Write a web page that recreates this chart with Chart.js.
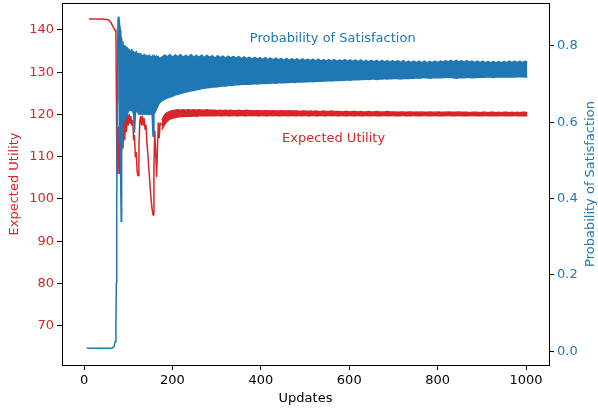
<!DOCTYPE html>
<html>
<head>
<meta charset="utf-8">
<script src="https://cdn.jsdelivr.net/npm/chart.js@4"></script>
<style>
  body { margin: 0; background: #fff; }
  #wrap { width: 598px; height: 411px; position: relative; }
</style>
</head>
<body>
<div id="wrap"><canvas id="chart"></canvas></div>
<script>
// Expected Utility, drawn as a plain line up to the point where it settles
const utilityLineUpdates = [
  11, 20, 40, 55, 60, 64, 68, 70, 72, 73, 74, 75,
  76, 78, 80, 82, 84, 86, 88, 90, 92, 94,
  96, 98, 100, 102, 104, 106, 108, 110, 112, 114,
  116, 118, 120, 122, 124, 126, 128, 130, 132, 134,
  136, 138, 140, 142, 144, 146, 148, 150, 152, 154,
  156, 158, 160, 162, 164, 166, 168, 170, 172, 176
];
const utilityLine = [
  142.6, 142.6, 142.6, 142.4, 141.9, 141.1, 140.3, 140.0, 139.4, 126, 110, 106.5,
  106, 117, 106, 118, 110, 118.5, 112, 119, 114, 119.5,
  116, 120, 117.5, 120, 118, 119.5, 117.5, 118.5, 114, 115,
  110, 111, 106.5, 105.5, 112, 118.5, 119.5, 117.5, 119.5, 117.5,
  119, 116.5, 117.5, 113.5, 111, 108, 105, 102, 99.5, 97.5,
  96.2, 108, 116, 111, 105.3, 112, 118, 114.5, 118, 117.5
];

// Probability of Satisfaction before the oscillation starts
const probLineUpdates = [6, 11, 20, 40, 55, 60, 64, 68, 70, 72, 73, 74, 75, 76, 77, 78];
const probLine = [0.008, 0.008, 0.008, 0.008, 0.008, 0.008, 0.009, 0.013, 0.025, 0.07, 0.18, 0.40, 0.65, 0.80, 0.87, 0.876];

// the oscillating part: upper and lower edges of the band
const probBandUpdates = [
  78, 80, 82, 83, 84, 85, 86, 88, 90, 92, 94,
  96, 98, 100, 102, 104, 106, 108, 110, 112, 114,
  116, 118, 120, 122, 124, 126, 128, 130, 132, 134,
  136, 138, 140, 142, 144, 146, 148, 150, 152, 154,
  156, 158, 160, 162, 164, 166, 168, 170,
  176, 182, 188, 194, 200, 206, 212, 218, 224, 230,
  236, 242, 248, 254, 260, 266, 272, 278, 284, 290,
  296, 302, 308, 314, 320, 326, 332, 338, 344, 350,
  356, 362, 368, 374, 380, 386, 392, 398, 404, 410,
  416, 422, 428, 434, 440, 446, 452, 458, 464, 470,
  476, 482, 488, 494, 500, 506, 512, 518, 524, 530,
  536, 542, 548, 554, 560, 566, 572, 578, 584, 590,
  596, 602, 608, 614, 620, 626, 632, 638, 644, 650,
  656, 662, 668, 674, 680, 686, 692, 698, 704, 710,
  716, 722, 728, 734, 740, 746, 752, 758, 764, 770,
  776, 782, 788, 794, 800, 806, 812, 818, 824, 830,
  836, 842, 848, 854, 860, 866, 872, 878, 884, 890,
  896, 902, 908, 914, 920, 926, 932, 938, 944, 950,
  956, 962, 968, 974, 980, 986, 992, 998, 1003
];
const probUpper = [
  0.876, 0.86, 0.84, 0.83, 0.82, 0.815, 0.81, 0.80, 0.80, 0.80, 0.797,
  0.795, 0.795, 0.79, 0.79, 0.787, 0.785, 0.79, 0.78, 0.785, 0.78,
  0.778, 0.785, 0.775, 0.78, 0.775, 0.772, 0.78, 0.77, 0.775, 0.772,
  0.778, 0.77, 0.775, 0.768, 0.774, 0.77, 0.776, 0.768, 0.772, 0.768,
  0.775, 0.766, 0.772, 0.767, 0.774, 0.766, 0.772, 0.766,
  0.770, 0.776, 0.771, 0.777, 0.770, 0.776, 0.771, 0.777, 0.770, 0.775,
  0.771, 0.777, 0.770, 0.775, 0.770, 0.776, 0.769, 0.775, 0.770, 0.774,
  0.768, 0.774, 0.769, 0.773, 0.767, 0.773, 0.768, 0.772, 0.767, 0.772,
  0.766, 0.771, 0.766, 0.770, 0.765, 0.770, 0.765, 0.769, 0.764, 0.769,
  0.764, 0.768, 0.763, 0.768, 0.763, 0.767, 0.762, 0.767, 0.762, 0.766,
  0.762, 0.766, 0.761, 0.766, 0.761, 0.765, 0.761, 0.765, 0.760, 0.765,
  0.760, 0.764, 0.760, 0.764, 0.759, 0.764, 0.759, 0.763, 0.760, 0.764,
  0.759, 0.763, 0.759, 0.763, 0.758, 0.763, 0.758, 0.762, 0.758, 0.762,
  0.758, 0.762, 0.757, 0.762, 0.757, 0.761, 0.757, 0.761, 0.757, 0.761,
  0.756, 0.761, 0.756, 0.760, 0.756, 0.760, 0.756, 0.760, 0.755, 0.760,
  0.755, 0.759, 0.756, 0.760, 0.756, 0.760, 0.757, 0.761, 0.758, 0.762,
  0.758, 0.762, 0.758, 0.761, 0.757, 0.761, 0.757, 0.760, 0.756, 0.760,
  0.756, 0.760, 0.755, 0.759, 0.755, 0.759, 0.755, 0.759, 0.755, 0.759,
  0.756, 0.760, 0.756, 0.760, 0.756, 0.760, 0.756, 0.760, 0.756
];
const probLower = [
  0.876, 0.55, 0.52, 0.52, 0.34, 0.52, 0.55, 0.60, 0.60, 0.61, 0.61,
  0.62, 0.62, 0.63, 0.63, 0.635, 0.63, 0.635, 0.63, 0.62, 0.574,
  0.62, 0.635, 0.63, 0.625, 0.62, 0.625, 0.62, 0.625, 0.62, 0.625,
  0.62, 0.625, 0.62, 0.62, 0.625, 0.62, 0.62, 0.625, 0.62, 0.62,
  0.563, 0.62, 0.625, 0.63, 0.635, 0.64, 0.645, 0.65,
  0.656, 0.660, 0.663, 0.666, 0.668, 0.671, 0.673, 0.675, 0.677, 0.679,
  0.680, 0.682, 0.683, 0.685, 0.686, 0.688, 0.689, 0.690, 0.691, 0.692,
  0.692, 0.693, 0.694, 0.695, 0.695, 0.696, 0.697, 0.697, 0.698, 0.698,
  0.699, 0.699, 0.700, 0.699, 0.700, 0.701, 0.700, 0.701, 0.702, 0.701,
  0.702, 0.702, 0.703, 0.702, 0.703, 0.704, 0.703, 0.704, 0.704, 0.705,
  0.704, 0.705, 0.706, 0.705, 0.706, 0.706, 0.707, 0.706, 0.707, 0.708,
  0.707, 0.708, 0.708, 0.709, 0.708, 0.709, 0.710, 0.709, 0.710, 0.710,
  0.711, 0.710, 0.711, 0.712, 0.711, 0.712, 0.712, 0.713, 0.712, 0.713,
  0.713, 0.712, 0.713, 0.713, 0.714, 0.713, 0.714, 0.714, 0.715, 0.714,
  0.714, 0.714, 0.715, 0.714, 0.715, 0.715, 0.716, 0.715, 0.716, 0.716,
  0.716, 0.715, 0.716, 0.716, 0.717, 0.716, 0.717, 0.717, 0.718, 0.717,
  0.716, 0.715, 0.716, 0.717, 0.716, 0.717, 0.717, 0.716, 0.717, 0.717,
  0.718, 0.717, 0.718, 0.718, 0.718, 0.717, 0.718, 0.718, 0.719, 0.718,
  0.718, 0.718, 0.719, 0.718, 0.719, 0.719, 0.719, 0.718, 0.719
];

const utilityBandUpdates = probBandUpdates.slice(49);
const utilityUpper = [
  118.6, 119.9, 120.4, 120.7, 120.9, 121.0, 121.1, 121.0, 121.1, 121.0,
  121.1, 121.0, 121.1, 121.0, 121.1, 121.0, 121.0, 121.1, 121.0, 121.0,
  121.0, 120.9, 121.0, 120.9, 121.0, 120.9, 121.0, 120.9, 120.9, 121.0,
  120.9, 120.9, 121.0, 120.9, 120.9, 120.8, 120.9, 120.9, 120.8, 120.9,
  120.9, 120.8, 120.9, 120.8, 120.8, 120.9, 120.8, 120.8, 120.9, 120.8,
  120.8, 120.8, 120.7, 120.8, 120.8, 120.7, 120.8, 120.7, 120.8, 120.7,
  120.7, 120.8, 120.7, 120.7, 120.8, 120.7, 120.7, 120.7, 120.6, 120.7,
  120.7, 120.6, 120.7, 120.7, 120.6, 120.7, 120.6, 120.6, 120.7, 120.6,
  120.6, 120.7, 120.6, 120.6, 120.6, 120.7, 120.6, 120.6, 120.6, 120.5,
  120.6, 120.6, 120.5, 120.6, 120.6, 120.5, 120.6, 120.5, 120.6, 120.5,
  120.5, 120.6, 120.5, 120.5, 120.6, 120.5, 120.5, 120.5, 120.6, 120.5,
  120.5, 120.5, 120.6, 120.5, 120.5, 120.5, 120.4, 120.5, 120.5, 120.5,
  120.4, 120.5, 120.5, 120.4, 120.5, 120.5, 120.4, 120.5, 120.4, 120.5,
  120.5, 120.4, 120.5, 120.4, 120.5, 120.4, 120.5, 120.5, 120.4
];
const utilityLower = [
  116.4, 117.6, 118.4, 118.9, 119.1, 119.3, 119.4, 119.5, 119.5, 119.6,
  119.6, 119.6, 119.7, 119.6, 119.7, 119.7, 119.7, 119.7, 119.7, 119.7,
  119.7, 119.8, 119.7, 119.7, 119.8, 119.7, 119.7, 119.8, 119.7, 119.7,
  119.8, 119.7, 119.7, 119.8, 119.7, 119.8, 119.7, 119.7, 119.8, 119.7,
  119.7, 119.8, 119.7, 119.8, 119.7, 119.7, 119.8, 119.7, 119.7, 119.8,
  119.7, 119.7, 119.8, 119.7, 119.8, 119.7, 119.7, 119.8, 119.7, 119.7,
  119.8, 119.7, 119.7, 119.8, 119.7, 119.8, 119.7, 119.7, 119.8, 119.7,
  119.7, 119.8, 119.7, 119.7, 119.8, 119.7, 119.7, 119.8, 119.7, 119.7,
  119.8, 119.7, 119.7, 119.7, 119.8, 119.7, 119.7, 119.8, 119.7, 119.7,
  119.7, 119.8, 119.7, 119.7, 119.7, 119.8, 119.7, 119.7, 119.7, 119.8,
  119.7, 119.7, 119.7, 119.8, 119.7, 119.7, 119.7, 119.7, 119.8, 119.7,
  119.7, 119.7, 119.8, 119.7, 119.7, 119.7, 119.7, 119.8, 119.7, 119.7,
  119.7, 119.7, 119.8, 119.7, 119.7, 119.7, 119.7, 119.7, 119.8, 119.7,
  119.7, 119.7, 119.7, 119.8, 119.7, 119.7, 119.7, 119.7, 119.7
];

const xTicks = [0, 200, 400, 600, 800, 1000];
const utilityTicks = [70, 80, 90, 100, 110, 120, 130, 140];
const probTicks = [0.0, 0.2, 0.4, 0.6, 0.8];

const RED = '#d62728';
const BLUE = '#1f77b4';
const FONT = { family: 'DejaVu Sans', size: 13 };

const toPoints = (xs, ys) => xs.map((x, i) => ({ x: x, y: ys[i] }));

// text labels placed in data coordinates, like ax.text
const annotations = [
  { text: 'Probability of Satisfaction', x: 375, y: 0.818, axis: 'y2', color: BLUE },
  { text: 'Expected Utility', x: 448, y: 114.4, axis: 'y', color: RED }
];

const framePlugin = {
  id: 'frame',
  afterDatasetsDraw(chart) {
    const c = chart.ctx;
    const a = chart.chartArea;
    c.save();
    c.font = '13px "DejaVu Sans"';
    c.textBaseline = 'middle';
    c.textAlign = 'left';
    annotations.forEach(an => {
      c.fillStyle = an.color;
      c.fillText(an.text, chart.scales.x.getPixelForValue(an.x), chart.scales[an.axis].getPixelForValue(an.y));
    });
    // right axis title, reading bottom to top like matplotlib
    c.save();
    c.translate(chart.width - 7, (a.top + a.bottom) / 2);
    c.rotate(-Math.PI / 2);
    c.textAlign = 'center';
    c.fillStyle = BLUE;
    c.fillText('Probability of Satisfaction', 0, 0);
    c.restore();
    c.strokeStyle = '#000';
    c.lineWidth = 1;
    c.strokeRect(Math.round(a.left) + 0.5, Math.round(a.top) + 0.5, Math.round(a.right - a.left), Math.round(a.bottom - a.top));
    c.restore();
  }
};

const fixedTicks = (arr) => (scale) => { scale.ticks = arr.map(v => ({ value: v })); };
const fixSize = (w, h) => (s) => {
  if (w) s.width = w;
  if (h) s.height = h;
  s.paddingTop = 0; s.paddingBottom = 0; s.paddingLeft = 0; s.paddingRight = 0;
};

const lineStyle = (color, order) => ({
  borderColor: color,
  backgroundColor: color,
  borderWidth: 1.5,
  pointRadius: 0,
  borderJoinStyle: 'round',
  order: order
});

new Chart(document.getElementById('chart'), {
  type: 'line',
  data: {
    datasets: [
      Object.assign({ label: 'Expected Utility', data: toPoints(utilityLineUpdates, utilityLine), yAxisID: 'y', fill: false }, lineStyle(RED, 1)),
      Object.assign({ label: 'Expected Utility upper', data: toPoints(utilityBandUpdates, utilityUpper), yAxisID: 'y', fill: false }, lineStyle(RED, 1)),
      Object.assign({ label: 'Expected Utility lower', data: toPoints(utilityBandUpdates, utilityLower), yAxisID: 'y', fill: '-1' }, lineStyle(RED, 1)),
      Object.assign({ label: 'Probability of Satisfaction', data: toPoints(probLineUpdates, probLine), yAxisID: 'y2', fill: false }, lineStyle(BLUE, 0)),
      Object.assign({ label: 'Probability upper', data: toPoints(probBandUpdates, probUpper), yAxisID: 'y2', fill: false }, lineStyle(BLUE, 0)),
      Object.assign({ label: 'Probability lower', data: toPoints(probBandUpdates, probLower), yAxisID: 'y2', fill: '-1' }, lineStyle(BLUE, 0))
    ]
  },
  options: {
    responsive: true,
    maintainAspectRatio: false,
    animation: false,
    layout: { padding: { top: 3, left: 0, right: 0, bottom: 0 } },
    plugins: { legend: { display: false }, tooltip: { enabled: false } },
    scales: {
      x: {
        type: 'linear',
        min: -50,
        max: 1052,
        afterBuildTicks: fixedTicks(xTicks),
        afterFit: fixSize(0, 46),
        grid: { drawOnChartArea: false, drawTicks: true, tickLength: 5, color: '#000' },
        border: { display: false },
        ticks: { color: '#000', font: FONT, padding: 3, maxRotation: 0, callback: (v) => String(v) },
        title: { display: true, text: 'Updates', color: '#000', font: FONT, padding: { top: 0, bottom: 5 } }
      },
      y: {
        position: 'left',
        min: 60.69,
        max: 146.39,
        afterBuildTicks: fixedTicks(utilityTicks),
        afterFit: fixSize(62, 0),
        grid: { drawOnChartArea: false, drawTicks: true, tickLength: 5, color: '#000' },
        border: { display: false },
        ticks: { color: RED, font: FONT, padding: 3 },
        title: { display: true, text: 'Expected Utility', color: RED, font: FONT, padding: { top: 7, bottom: 0 } }
      },
      y2: {
        position: 'right',
        min: -0.0357,
        max: 0.912,
        afterBuildTicks: fixedTicks(probTicks),
        afterFit: fixSize(49, 0),
        grid: { drawOnChartArea: false, drawTicks: true, tickLength: 5, color: '#000' },
        border: { display: false },
        ticks: { color: BLUE, font: FONT, padding: 3, callback: (v) => v.toFixed(1) },
        title: { display: false }
      }
    }
  },
  plugins: [framePlugin]
});
</script>
</body>
</html>
